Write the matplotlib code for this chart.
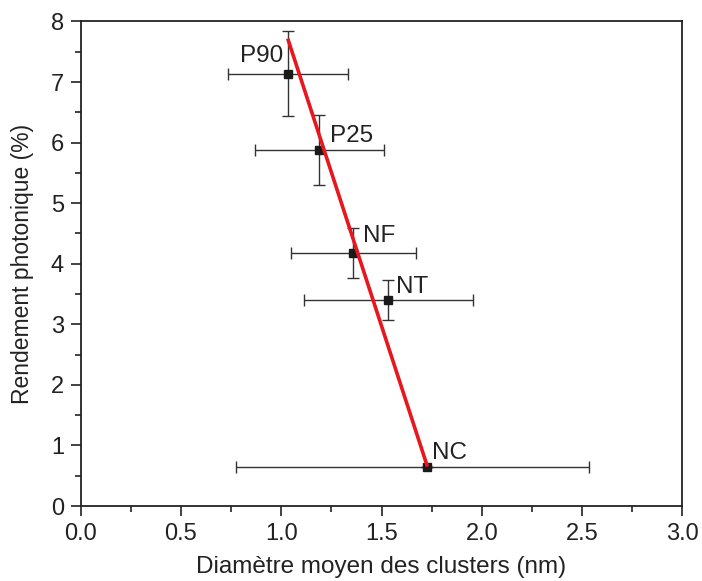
import matplotlib
matplotlib.use("Agg")
import matplotlib.pyplot as plt
from matplotlib.ticker import MultipleLocator

plt.rcParams['font.family'] = ['Liberation Sans', 'DejaVu Sans']

# data
names = ['P90', 'P25', 'NF', 'NT', 'NC']
diam = [1.035, 1.19, 1.36, 1.534, 1.726]
rend = [7.14, 5.88, 4.18, 3.40, 0.65]
xerr_low = [0.30, 0.32, 0.31, 0.42, 0.95]
xerr_high = [0.30, 0.32, 0.31, 0.42, 0.81]
yerr = [0.70, 0.58, 0.41, 0.33, 0.0]
fit_x = [1.035, 1.726]
fit_y = [7.69, 0.68]

# label anchors (left edge / right edge of text)
label_x = [1.01, 1.244, 1.408, 1.573, 1.752]
label_y = [7.43, 6.11, 4.46, 3.61, 0.87]
label_ha = ['right', 'left', 'left', 'left', 'left']


def plot_figure(output_file):
    fig = plt.figure(figsize=(7.02, 5.81), dpi=100)
    ax = fig.add_axes([0.115, 0.129, 0.857, 0.834])

    ax.errorbar(diam, rend, xerr=[xerr_low, xerr_high], yerr=yerr,
                fmt='s', color='#1a1a1a', ecolor='#333333', elinewidth=1,
                capsize=4, capthick=1, markersize=6, zorder=2)
    ax.plot(fit_x, fit_y, color='#e8161e', linewidth=2.6, zorder=3)

    for n, lx, ly, ha in zip(names, label_x, label_y, label_ha):
        ax.text(lx, ly, n, ha=ha, va='center', fontsize=17.5, color='#222222')

    ax.set_xlim(0, 3)
    ax.set_ylim(0, 8)
    ax.xaxis.set_major_locator(MultipleLocator(0.5))
    ax.xaxis.set_minor_locator(MultipleLocator(0.25))
    ax.yaxis.set_major_locator(MultipleLocator(1))
    ax.yaxis.set_minor_locator(MultipleLocator(0.5))
    ax.xaxis.set_major_formatter(plt.FormatStrFormatter('%.1f'))
    ax.tick_params(which='major', direction='out', length=7, width=1.2,
                   labelsize=17, labelcolor='#222222', color='#222222')
    ax.tick_params(axis='x', which='major', pad=5)
    ax.tick_params(axis='y', which='major', pad=5)
    ax.tick_params(which='minor', direction='out', length=4, width=1.2,
                   color='#222222')
    for s in ax.spines.values():
        s.set_linewidth(1.3)
        s.set_color('#222222')

    ax.set_xlabel('Diamètre moyen des clusters (nm)', fontsize=17.5,
                  color='#222222', labelpad=8)
    ax.set_ylabel('Rendement photonique (%)', fontsize=16.5,
                  color='#222222', labelpad=12)

    fig.savefig(output_file, dpi=100)
    plt.close(fig)


if __name__ == "__main__":
    plot_figure("out.png")
